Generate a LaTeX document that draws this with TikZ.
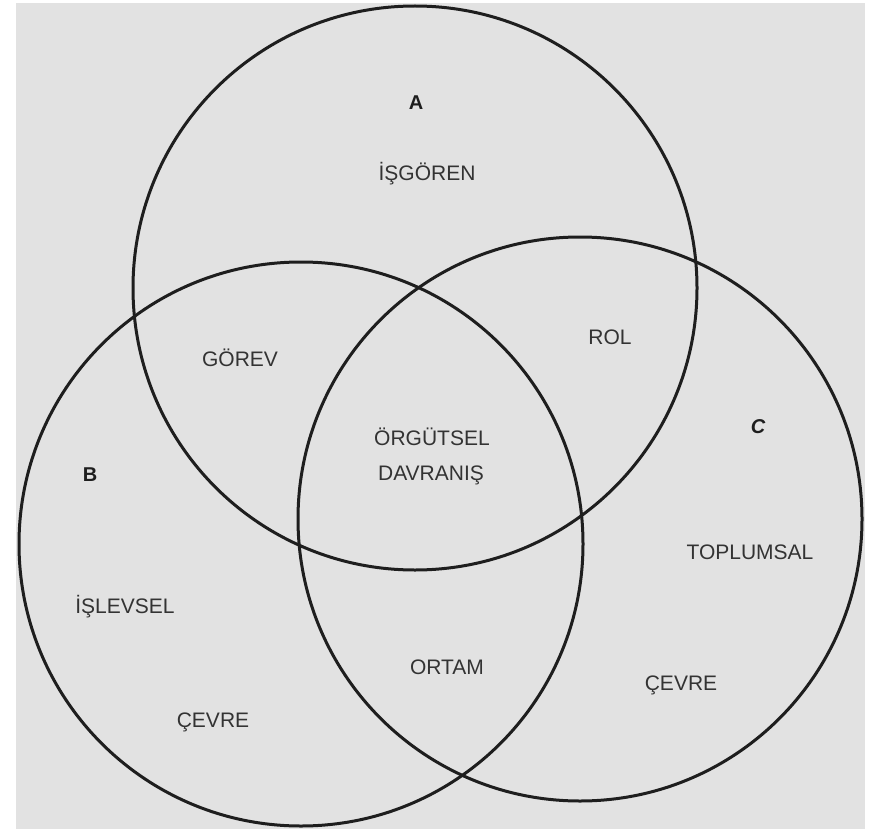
\documentclass[tikz,border=0pt]{standalone}
\usepackage{fontspec}
\setmainfont{Liberation Sans}
\definecolor{paper}{HTML}{E2E2E2}
\definecolor{ink}{HTML}{1E1E1E}
\definecolor{lab}{HTML}{333333}
\begin{document}
\begin{tikzpicture}[x=1pt,y=-1pt,
  ring/.style={draw=ink,line width=3pt},
  lbl/.style={text=lab,font=\fontsize{21}{23}\selectfont,inner sep=0pt},
  big/.style={text=ink,font=\fontsize{20}{22}\selectfont\bfseries,inner sep=0pt}]
\useasboundingbox (0,0) rectangle (872,829);
\fill[white] (0,0) rectangle (872,829);
\fill[paper] (16,3) rectangle (865,829);
\node[circle,ring,minimum size=564pt,inner sep=0pt] (A) at (415,288) {};
\node[circle,ring,minimum size=564pt,inner sep=0pt] (B) at (301,544) {};
\node[circle,ring,minimum size=564pt,inner sep=0pt] (C) at (580,519) {};
\node[big] (la) at (416,103) {A};
\node[big] (lb) at (90,475) {B};
\node[big] (lc) at (758,427) {\itshape C};
\node[lbl] (isgoren) at (427,174) {İŞGÖREN};
\node[lbl] (gorev) at (240,358) {GÖREV};
\node[lbl] (rol) at (610,337) {ROL};
\node[lbl] (orgutsel) at (432,437) {ÖRGÜTSEL};
\node[lbl] (davranis) at (431,475) {DAVRANIŞ};
\node[lbl] (toplumsal) at (750,552) {TOPLUMSAL};
\node[lbl] (islevsel) at (125,607) {İŞLEVSEL};
\node[lbl] (ortam) at (447,667) {ORTAM};
\node[lbl] (cevrec) at (681,685) {ÇEVRE};
\node[lbl] (cevreb) at (213,722) {ÇEVRE};
\end{tikzpicture}
\end{document}
